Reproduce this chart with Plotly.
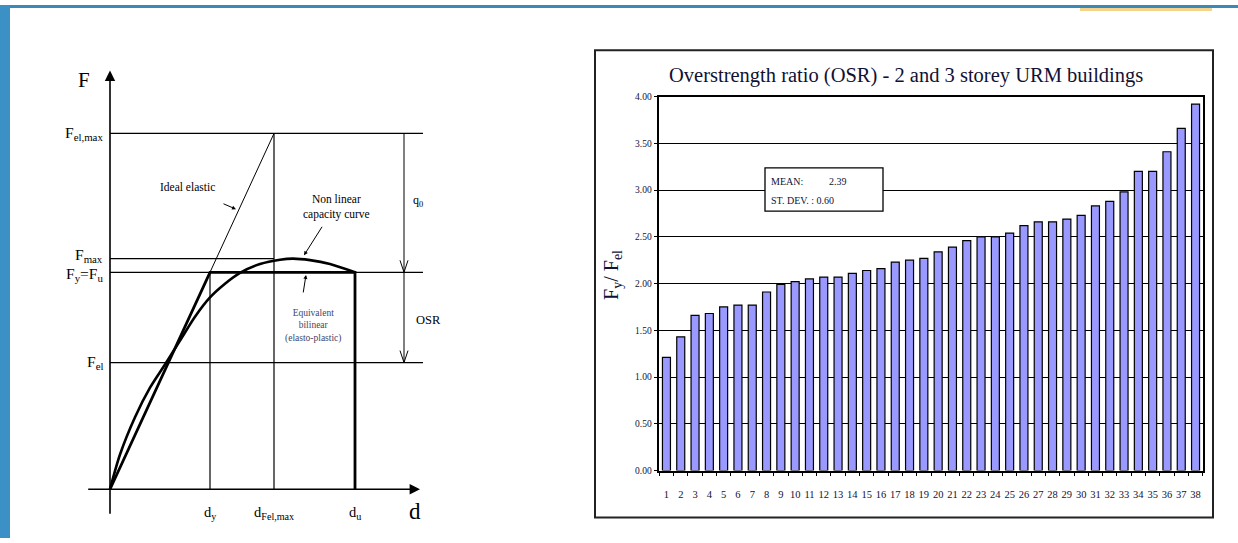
import plotly.graph_objects as go

W, H = 1238, 543
SERIF = "Liberation Serif"

# ---------------- data: left schematic (units: d_y = 1, F_y = 1) ----------------
d_y, d_Felmax, d_u = 1.0, 1.64, 2.45
F_el, F_y, F_max, F_elmax = 0.584, 1.0, 1.063, 1.64
guide_end = 3.13          # right end of horizontal guide lines
arrow_x = 2.94            # position of the q0 / OSR dimension arrows
d_axis_ext = [-0.233, 3.10]
F_axis_ext = [-0.12, 1.93]
curve_d = [0, 0.10, 0.25, 0.40, 0.55, 0.70, 0.85, 1.00, 1.15, 1.30, 1.50, 1.70, 1.83, 2.00, 2.20, 2.45]
curve_F = [0, 0.160, 0.332, 0.468, 0.575, 0.685, 0.795, 0.884, 0.947, 0.997, 1.038, 1.058, 1.063, 1.056, 1.038, 1.0]

# ---------------- data: right bar chart ----------------
buildings = [str(i) for i in range(1, 39)]
osr = [1.21, 1.43, 1.66, 1.68, 1.75, 1.77, 1.77, 1.91, 1.99, 2.02,
       2.05, 2.07, 2.07, 2.11, 2.14, 2.16, 2.23, 2.25, 2.27, 2.34,
       2.39, 2.46, 2.50, 2.50, 2.54, 2.62, 2.66, 2.66, 2.69, 2.73,
       2.83, 2.88, 2.98, 3.20, 3.20, 3.41, 3.66, 3.92]
y_ticks = [0, 0.5, 1.0, 1.5, 2.0, 2.5, 3.0, 3.5, 4.0]
mean_txt, std_txt = "2.39", "0.60"


def px(x):
    return x / W


def py(y):
    return 1 - y / H


# left axes pixel mapping
OX, SX = 110, 100.0
OY, SY = 493.3, 221.0
LX0, LX1, LY0, LY1 = 60, 440, 50, 535

fig = go.Figure()

BLK = "black"
NAVY = "#111133"


def seg(xs, ys, w=1.0):
    fig.add_trace(go.Scatter(x=xs, y=ys, mode="lines", line=dict(color=BLK, width=w),
                             hoverinfo="skip", showlegend=False, xaxis="x", yaxis="y"))


# horizontal guide lines
for F in [F_elmax, F_y, F_el]:
    seg([0, guide_end], [F, F], 1.2)
seg([0, d_Felmax], [F_max, F_max], 1.2)
# vertical guide lines
seg([d_y, d_y], [0, F_y], 1.2)
seg([d_Felmax, d_Felmax], [0, F_elmax], 1.2)
# ideal elastic
seg([0, d_Felmax], [0, F_elmax], 1.0)
# dimension arrows (q0, OSR)
seg([arrow_x, arrow_x], [F_elmax, F_el], 1.0)
for Fh in [F_y, F_el]:
    seg([arrow_x - 0.04, arrow_x, arrow_x + 0.04], [Fh + 0.055, Fh, Fh + 0.055], 1.0)
# nonlinear capacity curve
fig.add_trace(go.Scatter(x=curve_d, y=curve_F, mode="lines",
                         line=dict(color=BLK, width=2.6, shape="spline", smoothing=0.8),
                         hoverinfo="skip", showlegend=False, xaxis="x", yaxis="y"))
# equivalent bilinear
seg([0, d_y, d_u, d_u], [0, F_y, F_y, 0], 2.8)

# ---------------- bar chart ----------------
fig.add_trace(go.Bar(x=buildings, y=osr, marker=dict(color="#9999ff", line=dict(color=BLK, width=1.2)),
                     xaxis="x2", yaxis="y2", showlegend=False, hoverinfo="skip"))

ann = []


def ptext(x, y, text, size, color=BLK, xa="center", ya="middle", **kw):
    ann.append(dict(x=px(x), y=py(y), xref="paper", yref="paper", text=text, showarrow=False,
                    xanchor=xa, yanchor=ya, font=dict(family=SERIF, size=size, color=color), **kw))


# axes arrows for schematic
ann.append(dict(x=0, y=F_axis_ext[1], ax=0, ay=F_axis_ext[0], xref="x", yref="y", axref="x", ayref="y",
                text="", showarrow=True, arrowhead=2, arrowsize=1.3, arrowwidth=1.6, arrowcolor=BLK))
ann.append(dict(x=d_axis_ext[1], y=0, ax=d_axis_ext[0], ay=0, xref="x", yref="y", axref="x", ayref="y",
                text="", showarrow=True, arrowhead=2, arrowsize=1.3, arrowwidth=1.6, arrowcolor=BLK))

# F labels
for txt, F in [("F<sub>el,max</sub>", F_elmax), ("F<sub>max</sub>", F_max + 0.015),
               ("F<sub>y</sub>=F<sub>u</sub>", F_y - 0.01), ("F<sub>el</sub>", F_el)]:
    ann.append(dict(x=-0.05, y=F, xref="x", yref="y", text=txt, showarrow=False, xanchor="right",
                    yanchor="middle", font=dict(family=SERIF, size=15.5, color=BLK)))
# d labels
for txt, d in [("d<sub>y</sub>", d_y), ("d<sub>Fel,max</sub>", d_Felmax), ("d<sub>u</sub>", d_u)]:
    ann.append(dict(x=d, y=0, xref="x", yref="y", text=txt, showarrow=False, xanchor="center",
                    yanchor="middle", yshift=-24, font=dict(family=SERIF, size=14.5, color=BLK)))
ptext(415, 516, "d", 23)
ptext(84, 76, "F", 21)
ptext(418, 200, "q<sub>0</sub>", 12)
ptext(428, 321, "OSR", 12.5)
ptext(187, 185, "Ideal elastic", 11.5)
ptext(336, 206, "Non linear<br>capacity curve", 11.5)
ptext(313, 327, "Equivalent<br>bilinear<br>(elasto-plastic)", 9.5, color="#444466")

# leader arrows
for (x, y, ax, ay) in [(236, 208, -14, -6), (304, 255, 19, -30), (306, 275, -3, 19)]:
    ann.append(dict(x=px(x), y=py(y), xref="paper", yref="paper", ax=ax, ay=ay, text="", showarrow=True,
                    arrowhead=2, arrowsize=0.8, arrowwidth=1, arrowcolor=BLK))

# right chart texts
ptext(906, 72, "Overstrength ratio (OSR) - 2 and 3 storey URM buildings", 20.5, NAVY)
ptext(613, 275, "F<sub>y</sub>/ F<sub>el</sub>", 20, NAVY, textangle=-90)
ptext(769, 180, "MEAN:", 10, NAVY, xa="left")
ptext(827, 180, mean_txt, 10, NAVY, xa="left")
ptext(769, 199, "ST. DEV. : " + std_txt, 10, NAVY, xa="left")

shapes = [
    dict(type="rect", xref="paper", yref="paper", x0=px(765), x1=px(883), y0=py(210), y1=py(166),
         line=dict(color=BLK, width=1.3), fillcolor="white", layer="above"),
    dict(type="rect", xref="paper", yref="paper", x0=px(595), x1=px(1213), y0=py(522), y1=py(46),
         line=dict(color="#222222", width=2), layer="below"),
    dict(type="rect", xref="paper", yref="paper", x0=0, x1=1, y0=py(3), y1=1,
         line=dict(width=0), fillcolor="#3a8ab9"),
    dict(type="rect", xref="paper", yref="paper", x0=0, x1=px(10), y0=0, y1=1,
         line=dict(width=0), fillcolor="#3b90c6"),
    dict(type="rect", xref="paper", yref="paper", x0=px(1080), x1=px(1212), y0=py(6), y1=py(3),
         line=dict(width=0), fillcolor="#f3d48a"),
]

fig.update_layout(
    width=W, height=H, margin=dict(l=0, r=0, t=0, b=0),
    paper_bgcolor="white", plot_bgcolor="rgba(0,0,0,0)",
    showlegend=False, bargap=0.44,
    xaxis=dict(domain=[px(LX0), px(LX1)], range=[(LX0 - OX) / SX, (LX1 - OX) / SX], visible=False),
    yaxis=dict(domain=[py(LY1), py(LY0)], range=[(OY - LY1) / SY, (OY - LY0) / SY], visible=False),
    xaxis2=dict(domain=[px(659.3), px(1202.7)], anchor="y2", type="category",
                tickson="boundaries", ticks="outside", ticklen=4, tickcolor=BLK, tickwidth=1.2,
                showline=True, linecolor=BLK, linewidth=1.5, mirror=True, showgrid=False,
                tickangle=0, ticklabelstandoff=13,
                tickfont=dict(family=SERIF, size=10.5, color=NAVY)),
    yaxis2=dict(domain=[py(474.3), py(93.3)], anchor="x2", range=[0, 4],
                tickvals=y_ticks, tickformat=".2f", ticks="outside", ticklen=4, tickcolor=BLK,
                showline=True, linecolor=BLK, linewidth=1.5, mirror=True,
                showgrid=True, gridcolor=BLK, gridwidth=1.3, zeroline=False,
                tickfont=dict(family=SERIF, size=9.5, color=NAVY)),
    annotations=ann, shapes=shapes,
)

fig.write_html("out.html", config={"displayModeBar": False},
               post_script="document.body.style.margin='0';document.body.style.padding='0';")
